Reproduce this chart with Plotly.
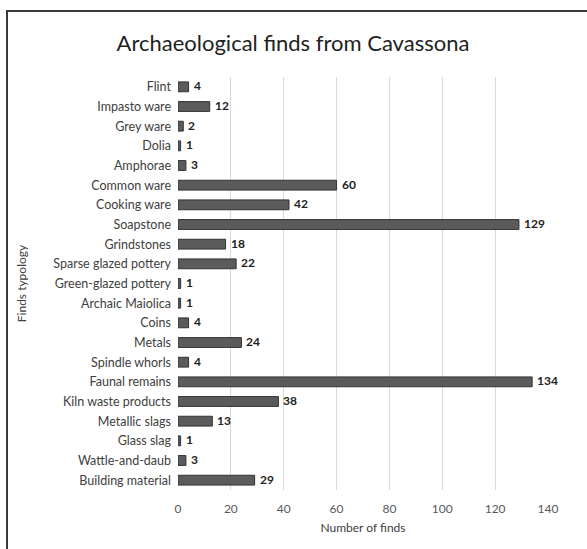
import plotly.graph_objects as go

categories = ["Flint", "Impasto ware", "Grey ware", "Dolia", "Amphorae", "Common ware",
              "Cooking ware", "Soapstone", "Grindstones", "Sparse glazed pottery",
              "Green-glazed pottery", "Archaic Maiolica", "Coins", "Metals",
              "Spindle whorls", "Faunal remains", "Kiln waste products", "Metallic slags",
              "Glass slag", "Wattle-and-daub", "Building material"]
values = [4, 12, 2, 1, 3, 60, 42, 129, 18, 22, 1, 1, 4, 24, 4, 134, 38, 13, 1, 3, 29]
x_ticks = [0, 20, 40, 60, 80, 100, 120, 140]

W, H = 587, 549
L, R, T, B = 178, 39, 77, 59
pw, ph = W - L - R, H - T - B

fig = go.Figure(go.Bar(
    x=values, y=categories, orientation="h",
    marker=dict(color="#5b5b5b", line=dict(color="#333333", width=1)),
    cliponaxis=False, width=0.5,
))

for c, v in zip(categories, values):
    fig.add_annotation(x=v, y=c, text=str(v), showarrow=False, xanchor="left",
                       xshift=4, yshift=1, borderpad=0,
                       font=dict(family="Lato", size=12, color="#222222", weight="bold"))

def px2paper_x(px):
    return (px - L) / pw

def px2paper_y(py):
    return (H - B - py) / ph

fig.add_shape(type="line", xref="paper", yref="paper",
              x0=px2paper_x(6), x1=px2paper_x(600), y0=px2paper_y(11), y1=px2paper_y(11),
              line=dict(color="#3a3a3a", width=2))
fig.add_shape(type="line", xref="paper", yref="paper",
              x0=px2paper_x(7), x1=px2paper_x(7), y0=px2paper_y(11), y1=px2paper_y(560),
              line=dict(color="#3a3a3a", width=2))

fig.update_layout(
    width=W, height=H,
    margin=dict(l=L, r=R, t=T, b=B),
    paper_bgcolor="white", plot_bgcolor="white",
    font=dict(family="Lato", size=12, color="#404040"),
    title=dict(text="Archaeological finds from Cavassona", xanchor="center",
               y=1 - 43 / H, yanchor="middle", xref="paper",
               font=dict(family="Lato", size=22, color="#222222")),
    showlegend=False,
)
fig.update_layout(title_x=px2paper_x(293))
fig.update_xaxes(range=[0, 140], tickvals=x_ticks, showgrid=True, gridcolor="#d9d9d9",
                 gridwidth=1, zeroline=False, showline=False, ticks="",
                 ticklabelstandoff=10,
                 tickfont=dict(size=12, color="#595959"),
                 title=dict(text="Number of finds", font=dict(size=12, color="#404040"), standoff=8))
fig.update_yaxes(autorange="reversed", showgrid=False, showline=False, ticks="",
                 ticklabelstandoff=6,
                 tickfont=dict(size=12.5, color="#404040"),
                 title=dict(text="Finds typology", font=dict(size=12, color="#404040"), standoff=24))

fig.write_html("out.html")
